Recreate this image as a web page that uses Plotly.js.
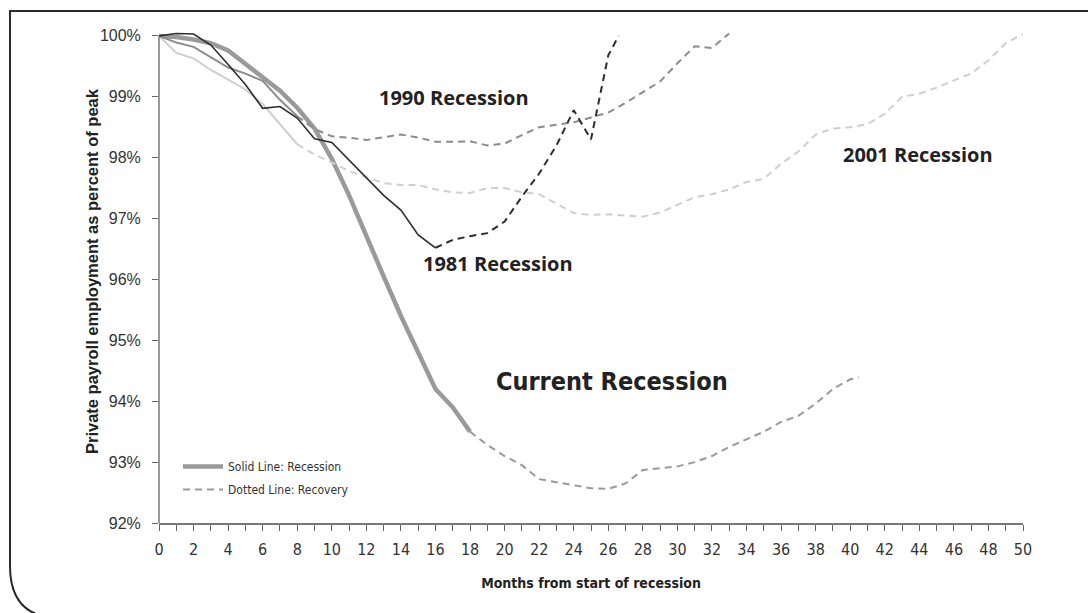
<!DOCTYPE html>
<html>
<head>
<meta charset="utf-8">
<script src="https://cdn.plot.ly/plotly-3.0.1.min.js"></script>
<style>
  html, body { margin: 0; padding: 0; background: #fff; overflow: hidden; }
  #chart { position: absolute; left: 0; top: 0; width: 1088px; height: 613px; }
</style>
</head>
<body>
<div id="chart"></div>
<script>
// ---- Data (percent of pre-recession peak, by months from start of recession) ----
const curRecMonths = [0,1,2,3,4,5,6,7,8,9,10,11,12,13,14,15,16,17,18];
const curRecVals   = [100,99.98,99.94,99.88,99.76,99.55,99.32,99.1,98.82,98.48,97.98,97.38,96.7,96.05,95.4,94.8,94.2,93.9,93.5];
const curRecovMonths = [18,19,20,21,22,23,24,25,26,27,28,29,30,31,32,33,34,35,36,37,38,39,40,40.5];
const curRecovVals   = [93.5,93.28,93.1,92.95,92.72,92.67,92.62,92.57,92.56,92.65,92.87,92.9,92.93,93.0,93.1,93.25,93.38,93.5,93.66,93.76,93.96,94.2,94.36,94.39];

const r1981RecMonths = [0,1,2,3,4,5,6,7,8,9,10,11,12,13,14,15,16];
const r1981RecVals   = [100,100.04,100.03,99.85,99.53,99.2,98.81,98.84,98.65,98.31,98.25,97.96,97.66,97.38,97.14,96.73,96.52];
const r1981RecovMonths = [16,17,18,19,20,21,22,23,24,25,26,26.6];
const r1981RecovVals   = [96.52,96.65,96.71,96.76,96.95,97.36,97.74,98.2,98.78,98.3,99.68,100.0];

const r1990RecMonths = [0,1,2,3,4,5,6,7,8];
const r1990RecVals   = [100,99.89,99.82,99.65,99.48,99.38,99.26,98.95,98.68];
const r1990RecovMonths = [8,9,10,11,12,13,14,15,16,17,18,19,20,21,22,23,24,25,26,27,28,29,30,31,32,33];
const r1990RecovVals   = [98.68,98.47,98.35,98.33,98.29,98.33,98.38,98.33,98.26,98.26,98.27,98.2,98.23,98.37,98.5,98.54,98.58,98.66,98.74,98.9,99.08,99.25,99.55,99.83,99.8,100.04];

const r2001RecMonths = [0,1,2,3,4,5,6,7,8];
const r2001RecVals   = [100,99.72,99.63,99.44,99.28,99.12,98.88,98.55,98.22];
const r2001RecovMonths = [8,9,10,11,12,13,14,15,16,17,18,19,20,21,22,23,24,25,26,27,28,29,30,31,32,33,34,35,36,37,38,39,40,41,42,43,44,45,46,47,48,49,50];
const r2001RecovVals   = [98.22,98.05,97.92,97.78,97.68,97.58,97.55,97.55,97.48,97.43,97.42,97.5,97.5,97.43,97.4,97.25,97.09,97.06,97.07,97.05,97.03,97.1,97.22,97.35,97.4,97.48,97.6,97.65,97.9,98.1,98.38,98.48,98.5,98.55,98.72,99.0,99.05,99.15,99.27,99.38,99.6,99.88,100.03];

const xTickVals = [0,2,4,6,8,10,12,14,16,18,20,22,24,26,28,30,32,34,36,38,40,42,44,46,48,50];
const yTickVals = [92,93,94,95,96,97,98,99,100];
const yTickText = ['92%','93%','94%','95%','96%','97%','98%','99%','100%'];

const seriesLabels = ['1981 Recession','1990 Recession','2001 Recession','Current Recession'];
const legendLabels = ['Solid Line: Recession','Dotted Line: Recovery'];
const yTitle = 'Private payroll employment as percent of peak';
const xTitle = 'Months from start of recession';

// ---- Layout geometry ----
const W = 1088, H = 613;
const M = {l: 159, r: 65, t: 31, b: 90};
const plotW = W - M.l - M.r, plotH = H - M.t - M.b;
const px2x = p => (p - M.l) / plotW;          // pixel -> paper x
const px2y = p => (H - M.b - p) / plotH;      // pixel -> paper y

const DASH = '7px,5px';
const narrowFont = 'Liberation Sans Narrow, DejaVu Sans Condensed, Arial Narrow, sans-serif';

const traces = [
  {x: curRecMonths, y: curRecVals, mode: 'lines', name: legendLabels[0], showlegend: true, legend: 'legend',
   line: {color: '#9a9a9a', width: 4.5}},
  {x: curRecovMonths, y: curRecovVals, mode: 'lines', name: legendLabels[1], showlegend: true, legend: 'legend2',
   line: {color: '#9a9a9a', width: 2, dash: DASH}},
  {x: r2001RecMonths, y: r2001RecVals, mode: 'lines', showlegend: false,
   line: {color: '#cfcfcf', width: 2}},
  {x: r2001RecovMonths, y: r2001RecovVals, mode: 'lines', showlegend: false,
   line: {color: '#cfcfcf', width: 2, dash: DASH}},
  {x: r1990RecMonths, y: r1990RecVals, mode: 'lines', showlegend: false,
   line: {color: '#8c8c8c', width: 2}},
  {x: r1990RecovMonths, y: r1990RecovVals, mode: 'lines', showlegend: false,
   line: {color: '#8c8c8c', width: 2, dash: DASH}},
  {x: r1981RecMonths, y: r1981RecVals, mode: 'lines', showlegend: false,
   line: {color: '#2e2e2e', width: 1.6}},
  {x: r1981RecovMonths, y: r1981RecovVals, mode: 'lines', showlegend: false,
   line: {color: '#2e2e2e', width: 2, dash: DASH}}
];

const legFont = {family: narrowFont, size: 12, color: '#333'};
const annFont = {family: 'Open Sans, Noto Sans, sans-serif', size: 20, color: '#222'};

const framePath = 'M ' + px2x(1100) + ',' + px2y(11) +
  ' L ' + px2x(10) + ',' + px2y(11) +
  ' L ' + px2x(10) + ',' + px2y(566) +
  ' Q ' + px2x(10) + ',' + px2y(618) + ' ' + px2x(60) + ',' + px2y(618) +
  ' L ' + px2x(1100) + ',' + px2y(618);

const layout = {
  width: W, height: H,
  margin: {l: M.l, r: M.r, t: M.t, b: M.b, pad: 0},
  paper_bgcolor: '#ffffff', plot_bgcolor: 'rgba(0,0,0,0)',
  showlegend: true,
  legend:  {x: px2x(178), y: px2y(452), xanchor: 'left', yanchor: 'top', bgcolor: 'rgba(0,0,0,0)',
            font: legFont, itemwidth: 40},
  legend2: {x: px2x(178), y: px2y(475), xanchor: 'left', yanchor: 'top', bgcolor: 'rgba(0,0,0,0)',
            font: legFont, itemwidth: 40},
  xaxis: {range: [0, 50], tickvals: xTickVals, ticks: 'outside', ticklen: 6, tickcolor: '#666',
          showline: true, linecolor: '#777', linewidth: 1.5, showgrid: false, zeroline: false,
          ticklabelstandoff: 5,
          minor: {dtick: 1, ticks: 'outside', ticklen: 6, tickcolor: '#666', showgrid: false},
          tickfont: {family: narrowFont, size: 16, color: '#333'},
          title: {text: '<b>' + xTitle + '</b>', standoff: 20,
                  font: {family: narrowFont, size: 14, color: '#222'}}},
  yaxis: {range: [92, 100.08], tickvals: yTickVals, ticktext: yTickText, ticks: 'outside', ticklen: 6,
          tickcolor: '#666', showline: false, showgrid: false,
          zeroline: false, ticklabelstandoff: 8,
          tickfont: {family: 'Liberation Sans, Arial, sans-serif', size: 16, color: '#333'}},
  shapes: [
    {type: 'line', xref: 'paper', yref: 'y', x0: 0, x1: 0, y0: yTickVals[0], y1: yTickVals[yTickVals.length - 1],
     line: {color: '#777', width: 1.5}},
    {type: 'path', xref: 'paper', yref: 'paper', layer: 'above', path: framePath, line: {color: '#2a2a2a', width: 2}}
  ],
  annotations: [
    {x: px2x(92), y: px2y(271), xref: 'paper', yref: 'paper', xanchor: 'center', yanchor: 'middle',
     text: '<b>' + yTitle + '</b>', textangle: -90,
     showarrow: false, font: {family: 'Liberation Sans, Arial, sans-serif', size: 16.5, color: '#222'}},
    {x: 17.07, y: 98.98, xref: 'x', yref: 'y', text: '<b>' + seriesLabels[1] + '</b>', showarrow: false, font: annFont},
    {x: 19.6, y: 96.26, xref: 'x', yref: 'y', text: '<b>' + seriesLabels[0] + '</b>', showarrow: false, font: annFont},
    {x: 43.9, y: 98.06, xref: 'x', yref: 'y', text: '<b>' + seriesLabels[2] + '</b>', showarrow: false, font: annFont},
    {x: 26.2, y: 94.33, xref: 'x', yref: 'y', text: '<b>' + seriesLabels[3] + '</b>', showarrow: false,
     font: {family: narrowFont, size: 25, color: '#222'}}
  ]
};

Plotly.newPlot('chart', traces, layout, {displayModeBar: false, staticPlot: true});
</script>
</body>
</html>
